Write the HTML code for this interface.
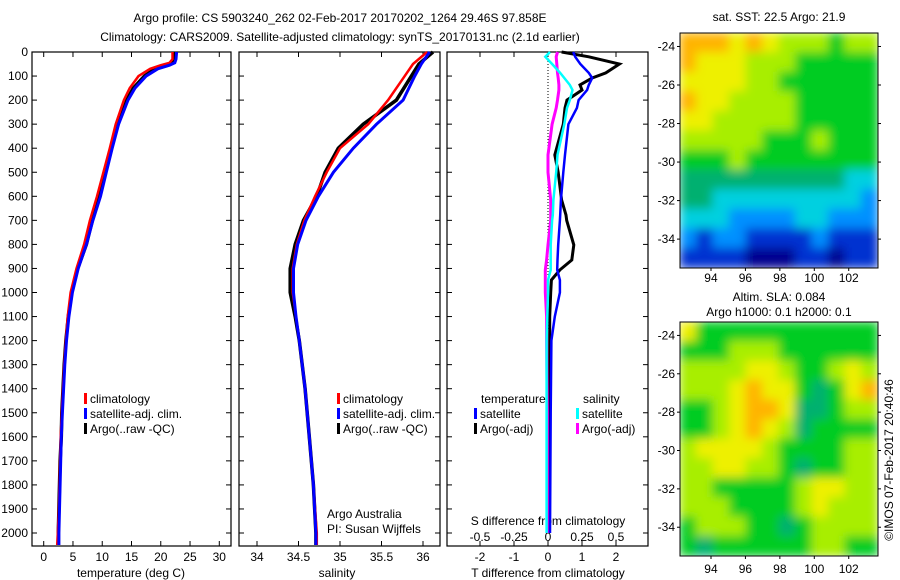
<!DOCTYPE html>
<html><head><meta charset="utf-8"><style>
body{margin:0;background:#fff;}
svg{display:block;font-family:"Liberation Sans",sans-serif;font-size:12px;}
</style></head><body>
<svg id="c" width="900" height="580" viewBox="0 0 900 580">
<defs>
<filter id="bl" x="0" y="0" width="100%" height="100%"><feGaussianBlur stdDeviation="5"/></filter>
<clipPath id="cm1"><rect x="680" y="33" width="198" height="235"/></clipPath>
<clipPath id="cm2"><rect x="680" y="322" width="198" height="234"/></clipPath>
</defs>
<text x="340" y="22" text-anchor="middle">Argo profile: CS 5903240_262 02-Feb-2017 20170202_1264 29.46S 97.858E</text>
<text x="340" y="41" text-anchor="middle">Climatology: CARS2009. Satellite-adjusted climatology: synTS_20170131.nc (2.1d earlier)</text>
<g id="g"></g>
</svg>
<script>
// ---- data ----
const tDepth=[0,30,45,55,70,100,150,200,300,400,500,600,700,800,900,1000,1100,1200,1300,1400,1500,1600,1700,1800,1900,2000,2050];
const tClim=[22.0,22.0,21.5,20,18.2,16.2,14.7,13.7,12.3,11.3,10.2,9.1,7.9,6.9,5.6,4.6,4.1,3.8,3.5,3.3,3.1,2.9,2.8,2.7,2.6,2.4,2.3];
const tSat=[22.7,22.6,22.4,21.5,19.5,17.5,15.6,14.4,12.8,11.7,10.7,9.7,8.4,7.3,5.9,4.9,4.3,3.9,3.6,3.4,3.2,3.0,2.9,2.8,2.7,2.6,2.6];
const tArgo=[22.3,22.3,22.1,20.8,19.0,17.2,15.3,14.2,12.7,11.5,10.5,9.5,8.3,7.3,5.8,4.8,4.2,3.8,3.5,3.3,3.1,3.0,2.8,2.7,2.6,2.5,2.5];
const sDepth=[0,50,100,200,300,400,500,600,700,800,900,1000,1100,1200,1400,1600,1800,2000,2050];
const sClim=[36.05,35.88,35.78,35.58,35.34,35.0,34.84,34.70,34.57,34.48,34.43,34.43,34.47,34.51,34.58,34.63,34.68,34.72,34.72];
const sSat=[36.08,35.98,35.9,35.76,35.44,35.16,34.92,34.74,34.59,34.49,34.44,34.44,34.47,34.51,34.58,34.63,34.68,34.71,34.71];
const sArgo=[36.12,35.95,35.86,35.68,35.28,34.98,34.82,34.72,34.56,34.46,34.40,34.40,34.46,34.51,34.58,34.63,34.68,34.71,34.71];
const dDepth=[0,20,50,87,108,137,158,200,233,300,428,500,615,678,700,802,865,906,948,1000,1100,1200,1500,2000];
const dTsat=[0.74,0.8,0.95,1.2,1.3,1.2,1.15,0.9,0.85,0.6,0.5,0.45,0.38,0.36,0.35,0.3,0.28,0.27,0.35,0.35,0.2,0.1,0.08,0.06];
const dTargo=[0.4,1.2,2.1,1.7,1.3,0.94,1.0,0.56,0.5,0.45,0.2,0.3,0.4,0.53,0.55,0.76,0.7,0.35,0.1,0.08,0.05,0.05,0.04,0.03];
const dSsat=[0.015,-0.02,0.03,0.09,0.12,0.16,0.18,0.16,0.14,0.12,0.07,0.06,0.04,0.035,0.03,0.02,0.02,0.02,0.0,0.0,-0.005,-0.01,-0.01,-0.01];
const dSargo=[0.07,0.06,0.065,0.07,0.075,0.08,0.08,0.07,0.06,0.03,0.0,0.0,0.02,0.02,0.02,0.0,-0.01,-0.02,-0.02,-0.02,-0.01,-0.01,-0.005,-0.005];
const depthTicks=[0,100,200,300,400,500,600,700,800,900,1000,1100,1200,1300,1400,1500,1600,1700,1800,1900,2000];
const tTicks=[0,5,10,15,20,25,30];
const sTicks=[34,34.5,35,35.5,36];
const sTickLbl=["34","34.5","35","35.5","36"];
const dtTicks=[-2,-1,0,1,2];
const dsTicks=[-0.5,-0.25,0,0.25,0.5];
const latTicks=[-24,-26,-28,-30,-32,-34];
const lonTicks=[94,96,98,100,102];
const sstGrid=[
[8,8,8,7,8,7,6,6,6,5,6,6],[8,7,7,7,6,6,6,5,5,5,5,5],[7,7,7,7,6,6,5,5,5,5,5,5],
[8,7,7,6,6,6,6,5,5,5,5,5],[7,7,6,6,6,6,6,5,5,5,5,5],[6,6,6,6,6,5,5,5,6,5,5,5],
[5,5,5,6,5,5,5,5,5,5,5,5],[4,4,4,4,4,4,4,4,4,4,3,3],[4,4,3,3,3,3,3,3,3,3,3,2],
[3,3,3,2,2,2,2,3,3,2,2,2],[2,1,2,2,1,1,1,1,2,1,1,1],[1,1,1,1,0,0,0,1,1,0,1,1]];
const slaGrid=[
[7,5,5,5,5,5,5,5,5,5,5,5],[5,5,5,6,6,6,5,5,5,5,5,5],[6,6,6,6,7,7,6,5,5,6,7,6],
[6,6,6,7,8,7,7,5,4,5,7,8],[5,5,6,7,8,8,7,4,4,5,6,6],[5,5,6,7,8,7,6,4,5,5,5,5],
[6,7,7,7,7,6,5,5,5,5,6,6],[6,6,7,7,6,6,5,4,5,5,6,6],[6,6,5,5,5,5,5,6,7,7,6,6],
[6,6,6,5,5,5,5,6,7,6,6,6],[5,6,6,6,5,5,4,5,6,6,6,6],[5,4,5,5,5,5,5,5,6,6,5,5]];
const pal=["#00008f","#0030d0","#0090ff","#00d0e0","#00b070","#00cc20","#a8ee00","#eef000","#ffb400"];
// ---- drawing ----
const NS="http://www.w3.org/2000/svg",G=document.getElementById('g');
function mk(t,a,p){const e=document.createElementNS(NS,t);for(const k in a)e.setAttribute(k,a[k]);(p||G).appendChild(e);return e;}
const Y0=52,Y1=546;const yD=d=>Y0+d*(Y1-Y0)/2054;
function panel(x0,x1,name){
 const r=mk('rect',{x:x0,y:Y0,width:x1-x0,height:Y1-Y0,fill:'none',stroke:'#000','stroke-width':1.2});
 
 depthTicks.forEach(d=>{mk('line',{x1:x0,x2:x0+5,y1:yD(d),y2:yD(d),stroke:'#000'});mk('line',{x1:x1,x2:x1-5,y1:yD(d),y2:yD(d),stroke:'#000'});});
}
function line(xs,ds,sx,col,w,name){
 const p=ds.map((d,i)=>sx(xs[i]).toFixed(1)+','+yD(d).toFixed(1)).join(' ');
 const e=mk('polyline',{points:p,fill:'none',stroke:col,'stroke-width':w});
 
 
}
function txt(x,y,s,anc,name,extra){const e=mk('text',Object.assign({x:x,y:y,'text-anchor':anc||'start'},extra||{}));e.textContent=s;
 
 return e;}
// panel 1
const sxT=v=>32+(v+2)*199/34;
panel(32,231,'temperature-panel');
depthTicks.forEach(d=>txt(28,yD(d)+4,String(d),'end','depth-tick-label'));
tTicks.forEach(v=>{mk('line',{x1:sxT(v),x2:sxT(v),y1:Y1,y2:Y1-5,stroke:'#000'});mk('line',{x1:sxT(v),x2:sxT(v),y1:Y0,y2:Y0+5,stroke:'#000'});txt(sxT(v),561,String(v),'middle','temperature-tick-label');});
txt(131,577,'temperature (deg C)','middle','temperature-axis-title');
line(tArgo,tDepth,sxT,'#000',3.5,'temp-argo-line');
line(tClim,tDepth,sxT,'#f00',2.5,'temp-climatology-line');
line(tSat,tDepth,sxT,'#00f',3,'temp-satellite-line');
// panel 2
const sxS=v=>257+(v-34)*83;
panel(239,440,'salinity-panel');
sTicks.forEach((v,i)=>{mk('line',{x1:sxS(v),x2:sxS(v),y1:Y1,y2:Y1-5,stroke:'#000'});mk('line',{x1:sxS(v),x2:sxS(v),y1:Y0,y2:Y0+5,stroke:'#000'});txt(sxS(v),561,sTickLbl[i],'middle','salinity-tick-label');});
txt(337,577,'salinity','middle','salinity-axis-title');
line(sArgo,sDepth,sxS,'#000',3.5,'sal-argo-line');
line(sClim,sDepth,sxS,'#f00',2.5,'sal-climatology-line');
line(sSat,sDepth,sxS,'#00f',3,'sal-satellite-line');
txt(327,518,'Argo Australia','start','argo-australia-label');
txt(327,533,'PI: Susan Wijffels','start','pi-label');
// legends
function legend(x,y,col,s,name){mk('rect',{x:x,y:y-10,width:3,height:11,fill:col});txt(x+6,y,s,'start',name);}
[[84,'climatology','#f00'],[84,'satellite-adj. clim.','#00f'],[84,'Argo(..raw -QC)','#000']].forEach((l,i)=>legend(l[0],403+i*15,l[2],l[1],'temp-legend-entry'));
[[337,'climatology','#f00'],[337,'satellite-adj. clim.','#00f'],[337,'Argo(..raw -QC)','#000']].forEach((l,i)=>legend(l[0],403+i*15,l[2],l[1],'sal-legend-entry'));
// panel 3
const sxDT=v=>548+v*34, sxDS=v=>548+v*136;
panel(447,648,'difference-panel');
mk('line',{x1:548,x2:548,y1:Y0,y2:330,stroke:'#000','stroke-dasharray':'1,2'});
dtTicks.forEach(v=>{mk('line',{x1:sxDT(v),x2:sxDT(v),y1:Y1,y2:Y1-5,stroke:'#000'});mk('line',{x1:sxDT(v),x2:sxDT(v),y1:Y0,y2:Y0+5,stroke:'#000'});txt(sxDT(v),561,String(v),'middle','t-diff-tick-label');});
dsTicks.forEach(v=>txt(sxDS(v),541,String(v),'middle','s-diff-tick-label'));
txt(548,525,'S difference from climatology','middle','s-diff-axis-title');
txt(548,577,'T difference from climatology','middle','t-diff-axis-title');
line(dTargo,dDepth,sxDT,'#000',3,'t-diff-argo-line');
line(dSargo,dDepth,sxDS,'#f0f',3,'s-diff-argo-line');
line(dTsat,dDepth,sxDT,'#00f',2.5,'t-diff-satellite-line');
line(dSsat,dDepth,sxDS,'#0ff',2.5,'s-diff-satellite-line');
txt(481,403,'temperature','start','legend-temperature-header');
txt(583,403,'salinity','start','legend-salinity-header');
legend(474,418,'#00f','satellite','t-sat-legend-entry');
legend(474,433,'#000','Argo(-adj)','t-argo-legend-entry');
legend(576,418,'#0ff','satellite','s-sat-legend-entry');
legend(576,433,'#f0f','Argo(-adj)','s-argo-legend-entry');
// maps
function map(grid,y0,h,clip,name,lonY){
 const x0=680,w=198,g=mk('g',{'clip-path':'url(#'+clip+')'});
 
 const inner=mk('g',{filter:'url(#bl)'},g);
 const nr=grid.length,nc=grid[0].length,cw=w/nc,ch=h/nr;
 grid.forEach((row,i)=>row.forEach((v,j)=>mk('rect',{x:x0+j*cw-0.5,y:y0+i*ch-0.5,width:cw+1,height:ch+1,fill:pal[v]},inner)));
 mk('rect',{x:x0,y:y0,width:w,height:h,fill:'none',stroke:'#000'});
 const la=v=>y0+(v+23.3)/(-35.5+23.3)*h, lo=v=>x0+(v-92.2)/(103.7-92.2)*w;
 latTicks.forEach(v=>{mk('line',{x1:x0-3,x2:x0,y1:la(v),y2:la(v),stroke:'#000'});mk('line',{x1:x0+w,x2:x0+w+3,y1:la(v),y2:la(v),stroke:'#000'});txt(x0-5,la(v)+4,String(v),'end','lat-tick-label');});
 lonTicks.forEach(v=>{mk('line',{x1:lo(v),x2:lo(v),y1:y0+h,y2:y0+h+3,stroke:'#000'});txt(lo(v),lonY,String(v),'middle','lon-tick-label');});
}
map(sstGrid,33,235,'cm1','sst-map',282);
map(slaGrid,322,234,'cm2','sla-map',573);
txt(779,21,'sat. SST: 22.5 Argo: 21.9','middle','sst-map-title');
txt(779,301,'Altim. SLA: 0.084','middle','sla-map-title');
txt(779,316,'Argo h1000: 0.1 h2000: 0.1','middle','sla-map-subtitle');
txt(0,0,'©IMOS 07-Feb-2017 20:40:46','middle','copyright-label',{transform:'translate(893,460) rotate(-90)'});
</script>
</body></html>
